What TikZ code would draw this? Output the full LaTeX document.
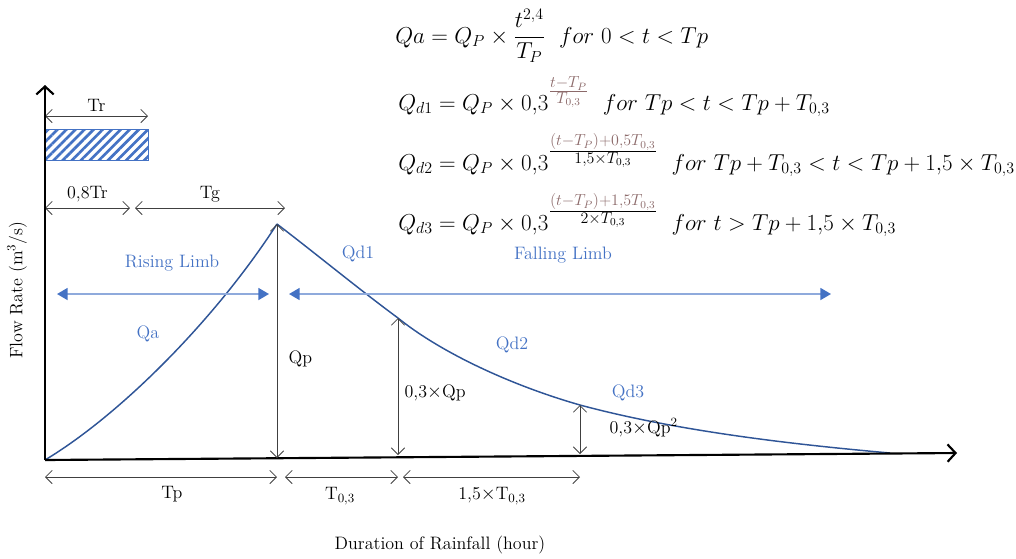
\documentclass[tikz,border=0pt]{standalone}
\usepackage{amsmath}
\usetikzlibrary{arrows.meta,patterns.meta}
\definecolor{curvec}{HTML}{2F5597}
\definecolor{lblue}{HTML}{4472C4}
\definecolor{abl}{HTML}{8FAADC}
\definecolor{expc}{HTML}{8C6A6A}
\definecolor{dimc}{HTML}{404040}
\newcommand{\ex}[1]{{\color{expc}#1}}
\newcommand{\sfr}[2]{\frac{\scriptstyle #1}{\scriptstyle #2}}
\begin{document}
\begin{tikzpicture}[x=0.75pt,y=-0.75pt,
  axisline/.style={line width=1.6pt,-{Straight Barb[length=6pt,width=13pt,line width=1.6pt]}},
  dimarrow/.style={draw=dimc,line width=0.6pt,{Straight Barb[length=5pt,width=10pt]}-{Straight Barb[length=5pt,width=10pt]}},
  limb/.style={draw=abl,line width=1.3pt,{Triangle[length=8pt,width=9pt,color=lblue]}-{Triangle[length=8pt,width=9pt,color=lblue]}},
  hydro/.style={draw=curvec,line width=1.1pt},
  lab/.style={font=\fontsize{13.5}{16}\selectfont,inner sep=1pt},
  bluelab/.style={lab,text=lblue},
  eq/.style={anchor=base west,inner sep=0pt,font=\fontsize{17}{20}\selectfont}]
\useasboundingbox (0,0) rectangle (1016,558);

% key points
\coordinate (O) at (45,460);
\coordinate (ytop) at (45,85);
\coordinate (xend) at (957,453);
\coordinate (peak) at (277,224);
\coordinate (p1) at (398,318);
\coordinate (p2) at (580,405);
\coordinate (p3) at (890,453);
\coordinate (p1b) at (398,455);
\coordinate (p2b) at (580,454);
\coordinate (peakb) at (277,458);

% rainfall block
\draw[draw=lblue,line width=0.5pt,pattern={Lines[angle=45,distance=4.8pt,line width=2pt]},pattern color=lblue] (45,129) rectangle (148,160);
\coordinate (tr1) at (45,116); \coordinate (tr2) at (148,116);
\draw[dimarrow] (tr1) -- (tr2) node[midway,above=2pt,lab] (trl) {Tr};
\coordinate (a1) at (45,208); \coordinate (a2) at (130,208);
\draw[dimarrow] (a1) -- (a2) node[midway,above=3pt,lab] (l08) {0,8Tr};
\coordinate (g1) at (135,208); \coordinate (g2) at (285,208);
\draw[dimarrow] (g1) -- (g2) node[midway,above=3pt,lab] (tgl) {Tg};

% hydrograph
\draw[hydro] (O) .. controls (120,415) and (215,320) .. (peak);
\draw[hydro] (peak) .. controls (320,257) and (360,290) .. (p1);
\draw[hydro] (p1) .. controls (440,352) and (510,385) .. (p2);
\draw[hydro] (p2) .. controls (680,432) and (800,445) .. (p3);

% axes
\draw[axisline] (O) -- (ytop);
\draw[axisline] (O) -- (xend);

% vertical dimensions
\draw[dimarrow] (peak) -- (peakb);
\draw[dimarrow] (p1) -- (p1b);
\draw[dimarrow] (p2) -- (p2b);
\node[lab,anchor=west] (qpl) at (287,359) {Qp};
\node[lab,anchor=west] (q03) at (403,393) {0,3{$\times$}Qp};
\node[lab,anchor=west] (q032) at (608,428) {0,3{$\times$}Qp\textsuperscript{2}};

% limbs
\coordinate (r1) at (57,294); \coordinate (r2) at (269,294);
\draw[limb] (r1) -- (r2);
\coordinate (f1) at (289,294); \coordinate (f2) at (831,294);
\draw[limb] (f1) -- (f2);
\node[bluelab] (rising) at (172,263) {Rising Limb};
\node[bluelab] (falling) at (563,255) {Falling Limb};
\node[bluelab] (qa) at (148,334) {Qa};
\node[bluelab] (qd1) at (358,254) {Qd1};
\node[bluelab] (qd2) at (512,345) {Qd2};
\node[bluelab] (qd3) at (628,393) {Qd3};

% bottom dimensions
\coordinate (b1) at (45,477); \coordinate (b2) at (277,477);
\coordinate (b3) at (285,477); \coordinate (b4) at (398,477);
\coordinate (b5) at (403,477); \coordinate (b6) at (580,477);
\draw[dimarrow] (b1) -- (b2);
\draw[dimarrow] (b3) -- (b4);
\draw[dimarrow] (b5) -- (b6);
\node[lab] (tpl) at (172,494) {Tp};
\node[lab] (t03l) at (340,496) {T\textsubscript{0,3}};
\node[lab] (t15l) at (492,496) {1,5{$\times$}T\textsubscript{0,3}};

% axis titles
\node[lab] (xtitle) at (440,545) {Duration of Rainfall (hour)};
\node[lab,rotate=90] (ytitle) at (17,290) {Flow Rate (m\textsuperscript{3}/s)};

% equations
\node[eq] (eq1) at (395,43) {$Qa = Q_P\times\dfrac{t^{2,4}}{T_P}\ \ for\ 0<t<Tp$};
\node[eq] (eq2) at (398,110) {$Q_{d1} = Q_P\times 0{,}3^{\ex{\sfr{t-T_P}{T_{0,3}}}}\ \ for\ Tp<t<Tp+T_{0,3}$};
\node[eq] (eq3) at (398,170) {$Q_{d2} = Q_P\times 0{,}3^{\sfr{\ex{(t-T_P)+0{,}5T_{0,3}}}{1{,}5\times T_{0,3}}}\ \ for\ Tp+T_{0,3}<t<Tp+1{,}5\times T_{0,3}$};
\node[eq] (eq4) at (398,230) {$Q_{d3} = Q_P\times 0{,}3^{\sfr{\ex{(t-T_P)+1{,}5T_{0,3}}}{2\times T_{0,3}}}\ \ for\ t>Tp+1{,}5\times T_{0,3}$};
\end{tikzpicture}
\end{document}
